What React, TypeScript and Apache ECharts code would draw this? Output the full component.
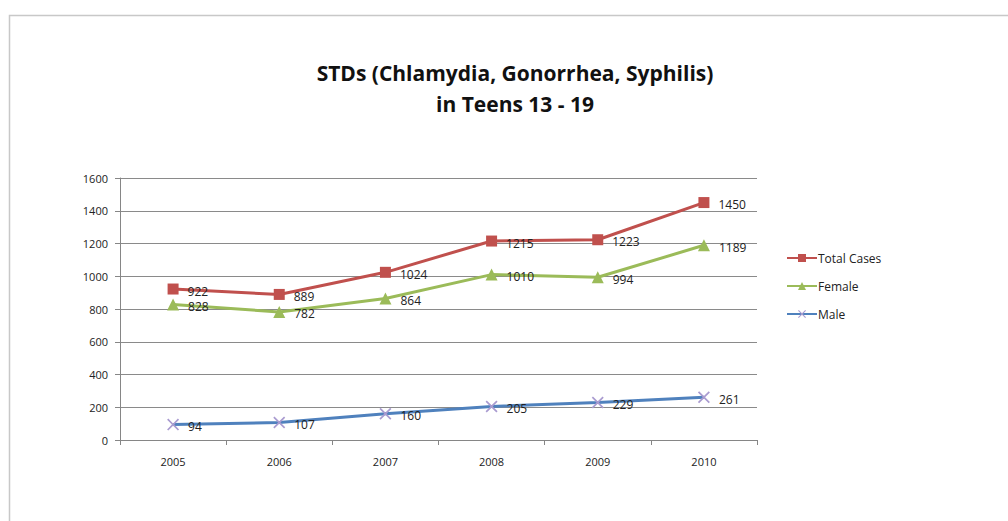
import React, { useEffect, useRef } from "react";
import * as echarts from "echarts";

const years = ["2005", "2006", "2007", "2008", "2009", "2010"];
const totalCases = [922, 889, 1024, 1215, 1223, 1450];
const female = [828, 782, 864, 1010, 994, 1189];
const male = [94, 107, 160, 205, 229, 261];
const titleLines = ["STDs (Chlamydia, Gonorrhea, Syphilis)", "in Teens 13 - 19"];

const FONT = "'Open Sans', 'Liberation Sans', sans-serif";
const CROSS =
  "path://M0,1L1,0L5,4L9,0L10,1L6,5L10,9L9,10L5,6L1,10L0,9L4,5Z";

export default function App() {
  const ref = useRef<HTMLDivElement>(null);
  useEffect(() => {
    const chart = echarts.init(ref.current!, null, { renderer: "svg" });
    const label = {
      show: true,
      position: "right",
      distance: 9,
      offset: [0, 2],
      color: "#222",
      fontSize: 12,
      fontFamily: FONT,
    };
    chart.setOption({
      animation: false,
      backgroundColor: "#fff",
      graphic: [
        {
          type: "rect",
          shape: { x: 9.5, y: 15.5, width: 1100, height: 600 },
          style: { fill: "none", stroke: "#c8c8c8", lineWidth: 1.5 },
          silent: true,
        },
      ],
      title: {
        text: titleLines.join("\n"),
        left: 510,
        textAlign: "center",
        top: 52,
        textStyle: {
          fontFamily: FONT,
          fontSize: 21,
          fontWeight: "bold",
          color: "#111",
          lineHeight: 31,
        },
      },
      legend: {
        orient: "vertical",
        left: 781,
        top: 247,
        itemWidth: 30,
        itemHeight: 10,
        itemGap: 16,
        textStyle: { fontFamily: FONT, fontSize: 12, color: "#222", padding: [0, 0, 0, -4] },
        data: ["Total Cases", "Female", "Male"],
      },
      grid: { left: 120, right: 251, top: 178, bottom: 81, containLabel: false },
      xAxis: {
        type: "category",
        data: years,
        boundaryGap: true,
        axisLine: { lineStyle: { color: "#868686" } },
        axisTick: { show: true, length: 5, lineStyle: { color: "#868686" } },
        axisLabel: { color: "#222", fontSize: 11, fontFamily: FONT, margin: 16 },
      },
      yAxis: {
        type: "value",
        min: 0,
        max: 1600,
        interval: 200,
        axisLine: { show: true, lineStyle: { color: "#868686" } },
        axisTick: { show: true, length: 5, lineStyle: { color: "#868686" } },
        axisLabel: {
          color: "#222",
          fontSize: 11,
          fontFamily: FONT,
          margin: 12,
          formatter: (v: number) => String(v),
        },
        splitLine: { lineStyle: { color: "#8a8a8a", width: 1 } },
      },
      series: [
        {
          name: "Total Cases",
          type: "line",
          data: totalCases,
          symbol: "rect",
          symbolSize: 11,
          color: "#C0504D",
          lineStyle: { width: 3, color: "#C0504D" },
          itemStyle: { color: "#C0504D" },
          label,
        },
        {
          name: "Female",
          type: "line",
          data: female,
          symbol: "triangle",
          symbolSize: 12,
          color: "#9BBB59",
          lineStyle: { width: 3, color: "#9BBB59" },
          itemStyle: { color: "#9BBB59" },
          label,
        },
        {
          name: "Male",
          type: "line",
          data: male,
          symbol: CROSS,
          symbolSize: 12,
          color: "#4F81BD",
          lineStyle: { width: 3, color: "#4F81BD" },
          itemStyle: { color: "#A99BD0" },
          label,
        },
      ],
    });
    return () => chart.dispose();
  }, []);
  return (
    <div
      ref={ref}
      style={{ position: "absolute", left: 0, top: 0, width: 1008, height: 521 }}
    />
  );
}
